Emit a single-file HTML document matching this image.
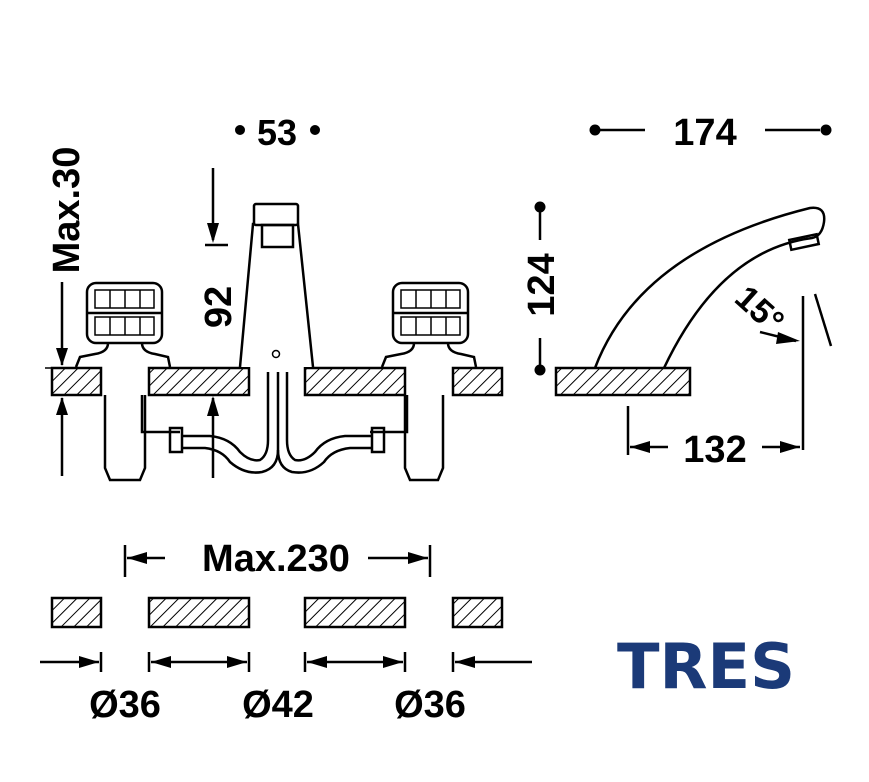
<!DOCTYPE html>
<html><head><meta charset="utf-8"><style>
html,body{margin:0;padding:0;background:#fff}
svg{display:block}
text{font-family:"Liberation Sans",Arial,sans-serif;font-weight:bold;fill:#000}
</style></head><body>
<svg width="869" height="782" viewBox="0 0 869 782" xmlns="http://www.w3.org/2000/svg">
<defs>
<pattern id="h" width="9" height="9" patternUnits="userSpaceOnUse" patternTransform="rotate(45)">
<rect width="9" height="9" fill="#fff"/><line x1="0" y1="0" x2="0" y2="9" stroke="#000" stroke-width="2"/>
</pattern>
</defs>
<g stroke="#000" stroke-width="2.5" fill="none">
<rect x="52" y="368" width="49" height="27" fill="url(#h)"/>
<rect x="149" y="368" width="100" height="27" fill="url(#h)"/>
<rect x="305" y="368" width="100" height="27" fill="url(#h)"/>
<rect x="453" y="368" width="49" height="27" fill="url(#h)"/>
<path d="M240 367 L253 224 L298 224 L313 367" fill="#fff"/>
<rect x="254" y="204" width="44" height="21" rx="2" fill="#fff"/>
<rect x="262" y="225" width="31" height="22"/>
<circle cx="276" cy="354" r="3.5" stroke-width="1.5"/>
<g id="k">
<rect x="87" y="283" width="75" height="60" rx="9" fill="#fff"/>
<line x1="87" y1="313" x2="162" y2="313"/>
<rect x="95" y="290" width="59" height="18" stroke-width="1.5"/>
<rect x="95" y="317" width="59" height="18" stroke-width="1.5"/>
<path d="M110 290v18M125 290v18M140 290v18M110 317v18M125 317v18M140 317v18" stroke-width="1.5"/>
<path d="M108 343 Q108 352 95 354 L80 357 L76 367 M142 343 Q142 352 155 354 L168 357 L170 367"/>
</g>
<use href="#k" transform="translate(306,0)"/>
<path d="M105 395 V468 L110 480 H140 L145 468 V395"/>
<path d="M142 395 V432 H180"/>
<rect x="170" y="428" width="12" height="24"/>
<path d="M182 436 H210 Q230 438 240 452 Q250 462 260 460 Q268 455 268 440 V372 M182 448 H205 Q222 450 230 462 Q245 475 262 472 Q278 468 278 450 V372"/>
<path d="M443 395 V468 L438 480 H410 L405 468 V395"/>
<path d="M407 395 V432 H370"/>
<rect x="372" y="428" width="12" height="24"/>
<path d="M372 436 H345 Q325 438 315 452 Q305 462 295 460 Q287 455 287 440 V372 M372 448 H350 Q332 450 324 462 Q310 475 292 472 Q278 468 278 450"/>
<line x1="62" y1="282" x2="62" y2="365"/>
<line x1="62" y1="398" x2="62" y2="476"/>
<line x1="45" y1="368" x2="80" y2="368" stroke-width="1.5"/>
<line x1="213" y1="168" x2="213" y2="240"/>
<line x1="205" y1="245" x2="228" y2="245"/>
<line x1="213" y1="398" x2="213" y2="478"/>
<line x1="540" y1="210" x2="540" y2="240"/>
<line x1="540" y1="338" x2="540" y2="366"/>
<line x1="600" y1="130" x2="645" y2="130"/>
<line x1="765" y1="130" x2="820" y2="130"/>
<rect x="556" y="368" width="134" height="27" fill="url(#h)"/>
<path d="M595 368 Q640 250 810 208 Q826 206 824 222 Q822 236 812 238 Q720 250 664 368"/>
<rect x="790" y="237" width="28" height="10" transform="rotate(-12 804 242)"/>
<line x1="803" y1="296" x2="803" y2="450"/>
<line x1="815" y1="294" x2="831" y2="346"/>
<line x1="760" y1="332" x2="796" y2="341"/>
<line x1="628" y1="406" x2="628" y2="455"/>
<line x1="630" y1="447" x2="668" y2="447"/>
<line x1="762" y1="447" x2="800" y2="447"/>
<rect x="52" y="598" width="49" height="29" fill="url(#h)"/>
<rect x="149" y="598" width="100" height="29" fill="url(#h)"/>
<rect x="305" y="598" width="100" height="29" fill="url(#h)"/>
<rect x="453" y="598" width="49" height="29" fill="url(#h)"/>
<line x1="125" y1="545" x2="125" y2="577"/>
<line x1="430" y1="545" x2="430" y2="577"/>
<line x1="127" y1="558" x2="165" y2="558"/>
<line x1="368" y1="558" x2="428" y2="558"/>
<path d="M101 652v20M149 652v20M249 652v20M305 652v20M405 652v20M453 652v20"/>
<path d="M40 662H99M151 662H247M307 662H403M455 662H532"/>
</g>
<g fill="#000">
<path d="M62 366 l-6 -18 h12z M62 397 l-6 18 h12z"/>
<path d="M213 243 l-6 -20 h12z M213 396 l-6 20 h12z"/>
<path d="M800 341 l-22 -9 l-2 12z"/>
<path d="M630 447 l20 -6 v12z M800 447 l-20 -6 v12z"/>
<path d="M127 558 l20 -6 v12z M428 558 l-20 -6 v12z"/>
<path d="M99 662 l-20 -6 v12z M151 662 l20 -6 v12z M247 662 l-20 -6 v12z M307 662 l20 -6 v12z M403 662 l-20 -6 v12z M455 662 l20 -6 v12z"/>
<circle cx="240" cy="130" r="5"/><circle cx="315" cy="130" r="5"/>
<circle cx="595" cy="130" r="5.5"/><circle cx="826" cy="130" r="5.5"/>
<circle cx="540" cy="207" r="5.5"/><circle cx="540" cy="370" r="5.5"/>
</g>
<text x="277" y="145" font-size="36" text-anchor="middle">53</text>
<text x="705" y="145" font-size="38" text-anchor="middle">174</text>
<text x="715" y="462" font-size="38" text-anchor="middle">132</text>
<text font-size="38" text-anchor="middle" transform="translate(79,210) rotate(-90)">Max.30</text>
<text font-size="38" text-anchor="middle" transform="translate(231,307) rotate(-90)">92</text>
<text font-size="38" text-anchor="middle" transform="translate(554,285) rotate(-90)">124</text>
<text font-size="34" text-anchor="middle" transform="translate(752,318) rotate(42)">15°</text>
<text x="276" y="571" font-size="38" text-anchor="middle">Max.230</text>
<text x="125" y="717" font-size="38" text-anchor="middle">Ø36</text>
<text x="278" y="717" font-size="38" text-anchor="middle">Ø42</text>
<text x="430" y="717" font-size="38" text-anchor="middle">Ø36</text>
<text x="706" y="688" font-size="62" text-anchor="middle" style="fill:#1b3a78;font-family:'DejaVu Sans','Liberation Sans',sans-serif" textLength="178" lengthAdjust="spacingAndGlyphs">TRES</text>
</svg>
</body></html>
